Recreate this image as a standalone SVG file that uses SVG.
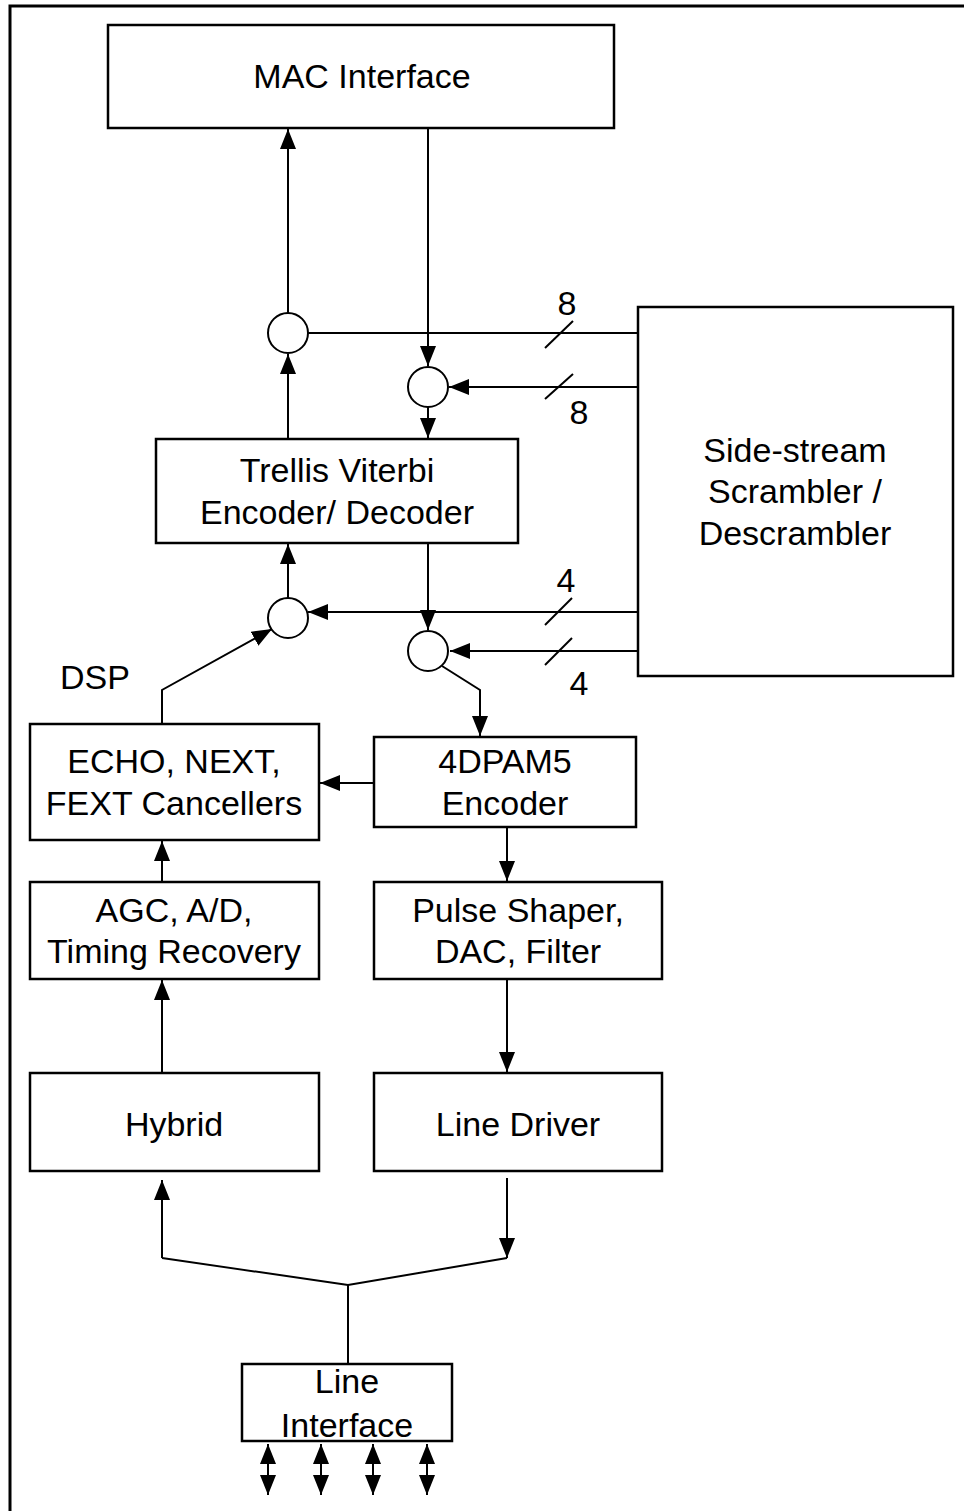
<svg xmlns="http://www.w3.org/2000/svg" width="964" height="1511" viewBox="0 0 964 1511">
<style>
.box{fill:#fff;stroke:#000;stroke-width:2.5}
.ln{fill:none;stroke:#000;stroke-width:2}
.arr{marker-end:url(#ah)}
.dbl{marker-end:url(#ah);marker-start:url(#ah)}
.c{fill:#fff;stroke:#000;stroke-width:2}
text{font-family:"Liberation Sans",Arial,sans-serif;font-size:34px;fill:#000}
.m{text-anchor:middle}
</style>
<defs>
<marker id="ah" markerUnits="userSpaceOnUse" markerWidth="20" markerHeight="16" refX="20" refY="8" orient="auto-start-reverse" viewBox="0 0 20 16">
<path d="M0,0 L20,8 L0,16 z" fill="#000"/>
</marker>
</defs>
<rect width="964" height="1511" fill="#fff"/>
<path d="M10,1511 L10,6 L964,6" fill="none" stroke="#000" stroke-width="3"/>

<g id="connectors">
<line class="ln arr" x1="288" y1="313" x2="288" y2="129"/>
<line class="ln arr" x1="288" y1="439" x2="288" y2="354"/>
<line class="ln arr" x1="428" y1="129" x2="428" y2="366"/>
<line class="ln arr" x1="428" y1="407" x2="428" y2="438"/>
<line class="ln" x1="308" y1="333" x2="638" y2="333"/>
<line class="ln arr" x1="638" y1="387" x2="449" y2="387"/>
<line class="ln arr" x1="428" y1="543" x2="428" y2="630"/>
<line class="ln arr" x1="288" y1="598" x2="288" y2="544"/>
<line class="ln arr" x1="638" y1="612" x2="308" y2="612"/>
<line class="ln arr" x1="638" y1="651" x2="450" y2="651"/>
<polyline class="ln arr" points="442,666 480,690 480,736"/>
<polyline class="ln arr" points="162,724 162,690 272,629"/>
<line class="ln arr" x1="374" y1="783" x2="320" y2="783"/>
<line class="ln arr" x1="162" y1="882" x2="162" y2="841"/>
<line class="ln arr" x1="507" y1="827" x2="507" y2="881"/>
<line class="ln arr" x1="162" y1="1073" x2="162" y2="980"/>
<line class="ln arr" x1="507" y1="979" x2="507" y2="1072"/>
<line class="ln arr" x1="162" y1="1258" x2="162" y2="1180"/>
<line class="ln arr" x1="507" y1="1178" x2="507" y2="1258"/>
<polyline class="ln" points="162,1258 348,1285 507,1258"/>
<line class="ln" x1="348" y1="1285" x2="348" y2="1364"/>
<line class="ln dbl" x1="268" y1="1444" x2="268" y2="1495"/>
<line class="ln dbl" x1="321" y1="1444" x2="321" y2="1495"/>
<line class="ln dbl" x1="373" y1="1444" x2="373" y2="1495"/>
<line class="ln dbl" x1="427" y1="1444" x2="427" y2="1495"/>
<line class="ln" x1="545" y1="348" x2="573" y2="321"/>
<line class="ln" x1="545" y1="399" x2="573" y2="374"/>
<line class="ln" x1="545" y1="625" x2="572" y2="598"/>
<line class="ln" x1="545" y1="665" x2="572" y2="638"/>
<text class="m" x="567" y="315">8</text>
<text class="m" x="579" y="424">8</text>
<text class="m" x="566" y="592">4</text>
<text class="m" x="579" y="695">4</text>
<text x="60" y="689">DSP</text>
</g>

<g id="mac"><rect class="box" x="108" y="25" width="506" height="103"/><text class="m" x="362" y="88">MAC Interface</text></g>
<g id="sum1"><circle class="c" cx="288" cy="333" r="20"/></g>
<g id="sum2"><circle class="c" cx="428" cy="387" r="20"/></g>
<g id="sum3"><circle class="c" cx="288" cy="618" r="20"/></g>
<g id="sum4"><circle class="c" cx="428" cy="651" r="20"/></g>
<g id="sidestream"><rect class="box" x="638" y="307" width="315" height="369"/>
<text class="m" x="795" y="462">Side-stream</text><text class="m" x="795" y="503">Scrambler /</text><text class="m" x="795" y="545">Descrambler</text></g>
<g id="trellis"><rect class="box" x="156" y="439" width="362" height="104"/>
<text class="m" x="337" y="482">Trellis Viterbi</text><text class="m" x="337" y="524">Encoder/ Decoder</text></g>
<g id="echo"><rect class="box" x="30" y="724" width="289" height="116"/>
<text class="m" x="174" y="773">ECHO, NEXT,</text><text class="m" x="174" y="815">FEXT Cancellers</text></g>
<g id="pam"><rect class="box" x="374" y="737" width="262" height="90"/>
<text class="m" x="505" y="773">4DPAM5</text><text class="m" x="505" y="815">Encoder</text></g>
<g id="agc"><rect class="box" x="30" y="882" width="289" height="97"/>
<text class="m" x="174" y="922">AGC, A/D,</text><text class="m" x="174" y="963">Timing Recovery</text></g>
<g id="pulse"><rect class="box" x="374" y="882" width="288" height="97"/>
<text class="m" x="518" y="922">Pulse Shaper,</text><text class="m" x="518" y="963">DAC, Filter</text></g>
<g id="hybrid"><rect class="box" x="30" y="1073" width="289" height="98"/><text class="m" x="174" y="1136">Hybrid</text></g>
<g id="driver"><rect class="box" x="374" y="1073" width="288" height="98"/><text class="m" x="518" y="1136">Line Driver</text></g>
<g id="lineif"><rect class="box" x="242" y="1364" width="210" height="77"/>
<text class="m" x="347" y="1393">Line</text><text class="m" x="347" y="1437">Interface</text></g>
</svg>
